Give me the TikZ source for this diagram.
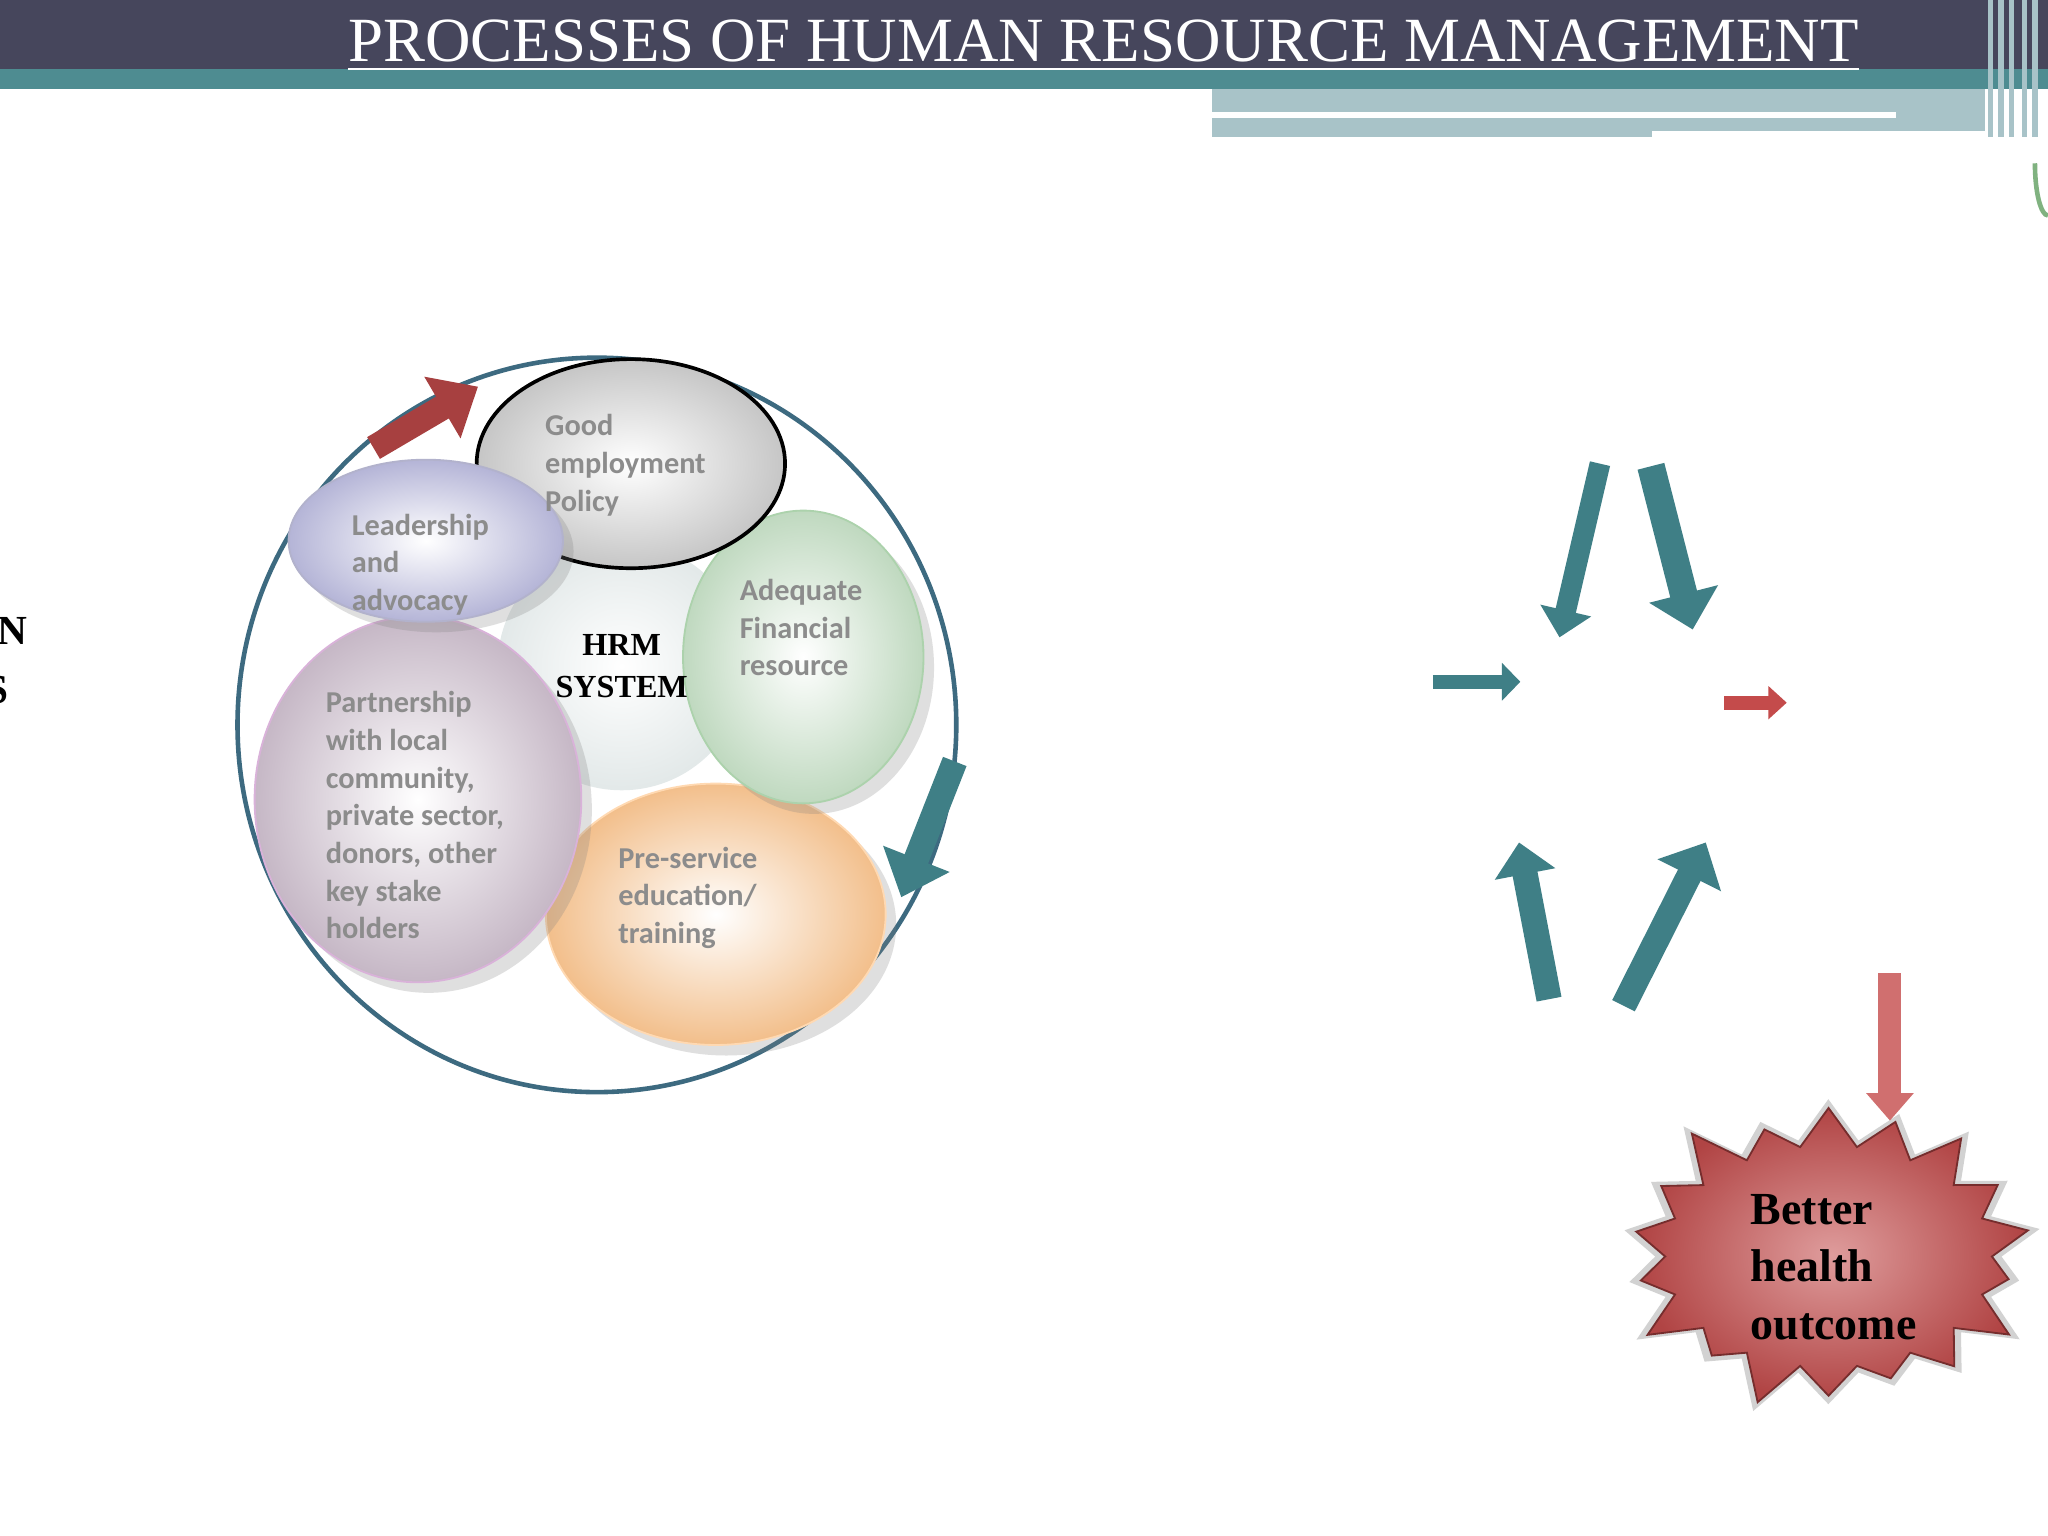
\documentclass[tikz,border=0pt]{standalone}
\usepackage{fontspec}
\setmainfont{Liberation Serif}
\newfontfamily\calfont{Carlito}
\usetikzlibrary{shapes.geometric,shapes.symbols,arrows.meta,shadows}
\definecolor{barDark}{HTML}{46465C}
\definecolor{barTeal}{HTML}{4E8C91}
\definecolor{barLight}{HTML}{A8C3C8}
\definecolor{ringBlue}{HTML}{3D6A80}
\definecolor{tealA}{HTML}{3F7F86}
\definecolor{redA}{HTML}{C44B4B}
\definecolor{lbl}{HTML}{8C8C8C}
\tikzset{
 lbltext/.style={font=\calfont\bfseries\fontsize{6.6}{8.2}\selectfont,text=lbl,align=left},
 tarrow/.style={draw=tealA},
 rarrow/.style={draw=redA},
}
\begin{document}
\begin{tikzpicture}[x=0.01cm,y=-0.01cm]
\useasboundingbox (0,0) rectangle (1568,1176);
\fill[white] (0,0) rectangle (1568,1176);
% header
\fill[barDark] (0,0) rectangle (1568,53);
\fill[barTeal] (0,53) rectangle (1568,68);
\fill[barLight] (928,68) rectangle (1520,105);
\fill[white] (928,86) rectangle (1452,90);
\fill[white] (1265,100) rectangle (1520,105);
\foreach \x in {1522,1530,1538,1548,1556} \fill[barLight] (\x,0) rectangle (\x+4,105);
\node[font=\fontsize{13.7}{15}\selectfont,text=white] (title) at (845,35) {\underline{PROCESSES OF HUMAN RESOURCE MANAGEMENT}};
% left cut text
\node[font=\bfseries\fontsize{9}{11}\selectfont,anchor=east,inner sep=0pt] (n1) at (22,483) {N};
\node[font=\bfseries\fontsize{9}{11}\selectfont,anchor=east,inner sep=0pt] (n2) at (7,528) {S};
% ring
\node[ellipse,draw=ringBlue,line width=1pt,minimum width=5.5cm,minimum height=5.62cm] (ring) at (457,555) {};
\node[circle,minimum size=1.9cm,shading=radial,inner color=white,outer color=cyan!12!gray!20] (core) at (476,510) {};
\node[ellipse,minimum width=2.6cm,minimum height=2.0cm,shading=radial,inner color=white,outer color=orange!45!white!90!gray,draw=orange!30,drop shadow={opacity=0.25}] (pre) at (548,700) {};
\node[ellipse,minimum width=2.5cm,minimum height=2.8cm,shading=radial,inner color=white,outer color=violet!25!gray!45,draw=violet!30,drop shadow={opacity=0.25}] (part) at (320,612) {};
\node[ellipse,minimum width=1.84cm,minimum height=2.24cm,shading=radial,inner color=white,outer color=green!25!gray!40,draw=green!30!gray!50,drop shadow={opacity=0.25}] (fin) at (615,503) {};
\node[ellipse,minimum width=2.36cm,minimum height=1.6cm,shading=radial,inner color=white,outer color=gray!45,draw=black,line width=0.8pt] (pol) at (483,355) {};
\node[ellipse,minimum width=2.1cm,minimum height=1.24cm,shading=radial,inner color=white,outer color=blue!30!gray!45,draw=blue!20!gray!50,drop shadow={opacity=0.25}] (lead) at (326,414) {};
% labels
\node[font=\bfseries\fontsize{7}{9}\selectfont,align=center] (hrm) at (476,510) {HRM\\SYSTEM};
\node[lbltext,anchor=north west] (tpol) at (405,305) {Good\\employment\\Policy};
\node[lbltext,anchor=north west] (tlead) at (257,381) {Leadership\\and\\advocacy};
\node[lbltext,anchor=north west] (tfin) at (554,431) {Adequate\\Financial\\resource};
\node[lbltext,anchor=north west] (tpart) at (237,517) {Partnership\\with local\\community,\\private sector,\\donors, other\\key stake\\holders};
\node[lbltext,anchor=north west] (tpre) at (461,636) {Pre-service\\education/\\training};
% cycle arrows
\coordinate (ra1) at (286,343); \coordinate (ra2) at (366,296);
\draw[rarrow,line width=5.5pt,-{Triangle[length=9pt,width=15pt]},draw=redA!85!black] (ra1) -- (ra2);
\coordinate (ta1) at (731,583); \coordinate (ta2) at (690,687);
\draw[tarrow,line width=5.5pt,-{Triangle[length=9pt,width=15pt]}] (ta1) -- (ta2);
% right arrows
\coordinate (d1a) at (1225,355); \coordinate (d1b) at (1194,488);
\coordinate (d2a) at (1264,357); \coordinate (d2b) at (1296,482);
\coordinate (ha) at (1097,522); \coordinate (hb) at (1164,522);
\coordinate (u1a) at (1186,765); \coordinate (u1b) at (1163,645);
\coordinate (u2a) at (1243,770); \coordinate (u2b) at (1306,645);
\coordinate (sa) at (1320,538); \coordinate (sb) at (1368,538);
\coordinate (va) at (1447,745); \coordinate (vb) at (1447,858);
\draw[tarrow,line width=4.5pt,-{Triangle[length=6pt,width=11pt]}] (d1a) -- (d1b);
\draw[tarrow,line width=6pt,-{Triangle[length=8pt,width=15pt]}] (d2a) -- (d2b);
\draw[tarrow,line width=3pt,-{Triangle[length=4pt,width=8pt]}] (ha) -- (hb);
\draw[tarrow,line width=5.5pt,-{Triangle[length=7pt,width=13pt]}] (u1a) -- (u1b);
\draw[tarrow,line width=5.5pt,-{Triangle[length=8pt,width=15pt]}] (u2a) -- (u2b);
\draw[rarrow,line width=3pt,-{Triangle[length=4pt,width=7pt]}] (sa) -- (sb);
% starburst
\node[starburst,starburst points=18,starburst point height=0.4cm,minimum width=3.3cm,minimum height=2.5cm,shading=radial,inner color=redA!55,outer color=redA!90!black,draw=redA!60!black,drop shadow={opacity=0.35,shadow xshift=0pt,shadow yshift=0pt,shadow scale=1.06}] (burst) at (1400,962) {};
\draw[rarrow,line width=5pt,-{Triangle[length=6pt,width=10pt]},draw=redA!80!white] (va) -- (vb);
\node[font=\bfseries\fontsize{10}{12.5}\selectfont,align=left,anchor=north west] (btext) at (1328,902) {Better\\health\\outcome};
% right edge partial shape
\draw[green!40!black!50,line width=1pt] (1568,165) arc (90:180:10 and 40);
\end{tikzpicture}
\end{document}
